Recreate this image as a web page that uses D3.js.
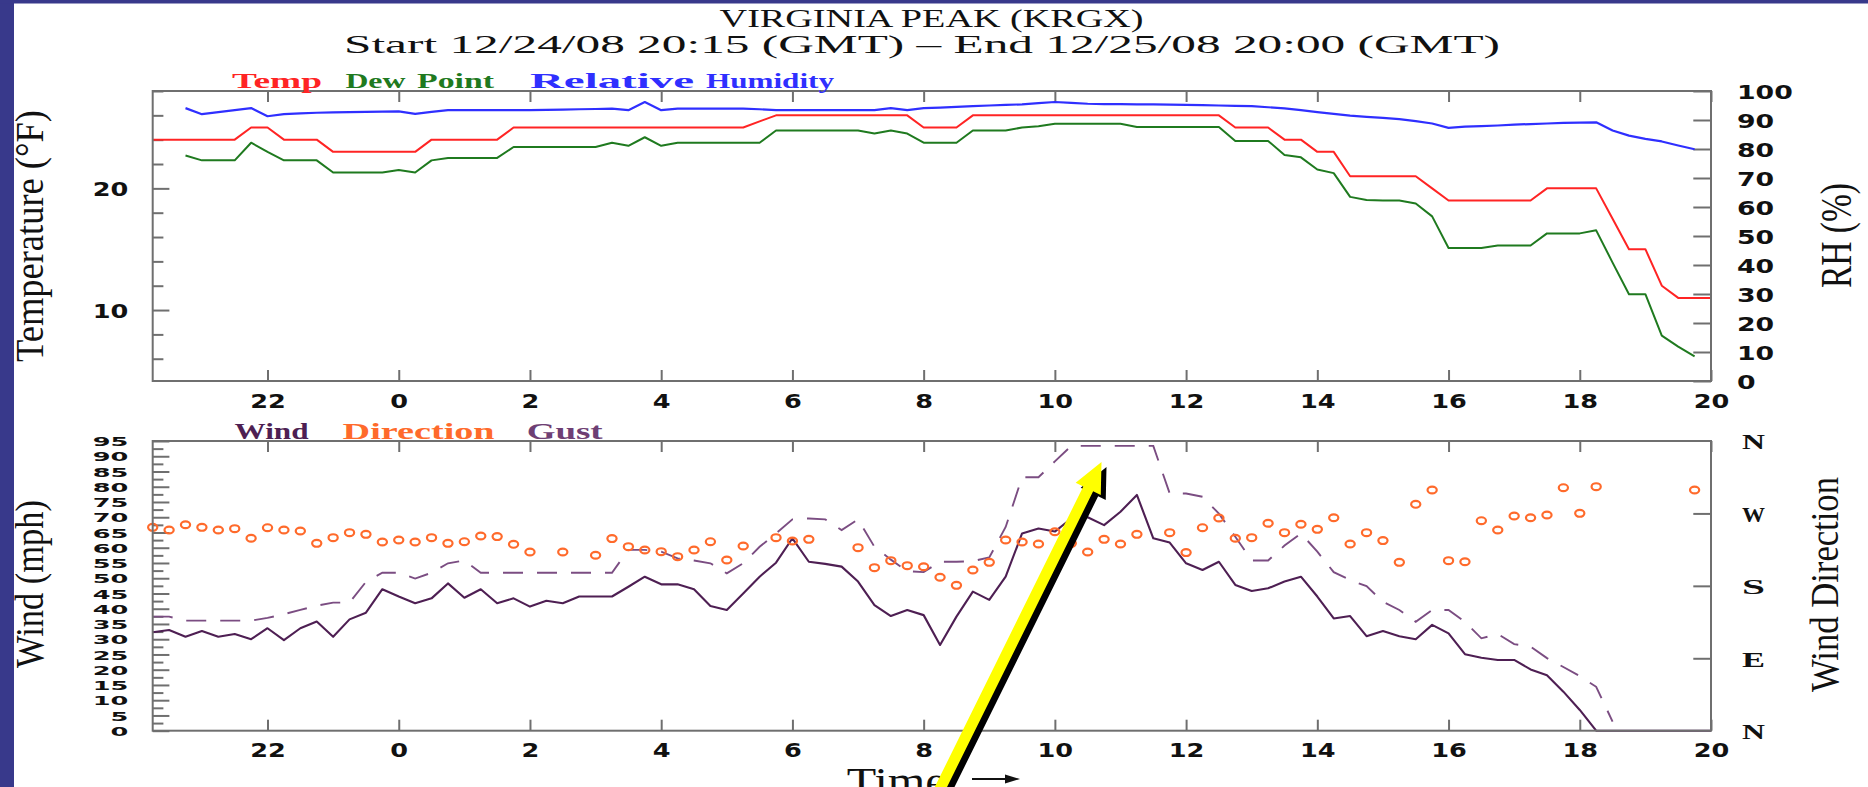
<!DOCTYPE html>
<html><head><meta charset="utf-8">
<script src="https://cdn.jsdelivr.net/npm/d3@7"></script>
<style>html,body{margin:0;padding:0;background:#fff;overflow:hidden}</style>
</head><body>
<svg id="chart" width="1868" height="787"></svg>
<script>
// ---- DATA (15-minute observations, hours relative to 00Z 12/25/08) ----
const hours = [
  -3.75,-3.5,-3.25,
  -3,-2.75,-2.5,-2.25,  -2,-1.75,-1.5,-1.25,  -1,-0.75,-0.5,-0.25,
  0,0.25,0.5,0.75,  1,1.25,1.5,1.75,  2,2.25,2.5,2.75,  3,3.25,3.5,3.75,
  4,4.25,4.5,4.75,  5,5.25,5.5,5.75,  6,6.25,6.5,6.75,  7,7.25,7.5,7.75,
  8,8.25,8.5,8.75,  9,9.25,9.5,9.75,  10,10.25,10.5,10.75,  11,11.25,11.5,11.75,
  12,12.25,12.5,12.75,  13,13.25,13.5,13.75,  14,14.25,14.5,14.75,  15,15.25,15.5,15.75,
  16,16.25,16.5,16.75,  17,17.25,17.5,17.75,  18,18.25,18.5,18.75,  19,19.25,19.5,19.75,
  20];
const tempF = [
  24,24,24,
  24,24,24,25,  25,24,24,24,  23,23,23,23,
  23,23,24,24,  24,24,24,25,  25,25,25,25,  25,25,25,25,
  25,25,25,25,  25,25,25.5,26,  26,26,26,26,  26,26,26,26,
  25,25,25,26,  26,26,26,26,  26,26,26,26,  26,26,26,26,
  26,26,26,25,  25,25,24,24,  23,23,21,21,  21,21,21,20,
  19,19,19,19,  19,19,20,20,  20,20,17.5,15,  15,12,11,11,
  11];
const dewF = [
  null,null,22.7,
  22.3,22.3,22.3,23.75,  23.0,22.3,22.3,22.3,  21.3,21.3,21.3,21.3,
  21.5,21.3,22.3,22.5,  22.5,22.5,22.5,23.4,  23.4,23.4,23.4,23.4,  23.4,23.75,23.5,24.2,
  23.5,23.75,23.75,23.75,  23.75,23.75,23.75,24.75,  24.75,24.75,24.75,24.75,  24.75,24.5,24.75,24.5,
  23.75,23.75,23.75,24.75,  24.75,24.75,25.0,25.1,  25.3,25.3,25.3,25.3,  25.3,25.05,25.05,25.05,
  25.05,25.05,25.05,23.9,  23.9,23.9,22.75,22.55,  21.55,21.25,19.3,19.05,  19.0,19.0,18.75,17.7,
  15.1,15.1,15.1,15.3,  15.3,15.3,16.3,16.3,  16.3,16.55,13.9,11.3,  11.3,7.9,7.0,6.2,
  null];
const rhPct = [
  null,null,94.1,
  92.0,92.7,93.4,94.1,  91.3,92.0,92.3,92.5,  92.6,92.7,92.8,92.9,
  93.0,92.1,92.8,93.4,  93.4,93.4,93.4,93.4,  93.4,93.5,93.6,93.7,  93.8,93.9,93.4,96.2,
  93.4,93.9,93.9,93.9,  93.9,93.9,93.7,93.4,  93.4,93.4,93.4,93.4,  93.4,93.4,94.1,93.4,
  94.1,94.3,94.5,94.8,  95.0,95.2,95.4,95.8,  96.2,95.9,95.6,95.5,  95.5,95.4,95.4,95.3,
  95.2,95.1,95.0,94.9,  94.8,94.4,94.0,93.4,  92.7,92.1,91.5,91.1,  90.7,90.3,89.6,88.8,
  87.3,87.7,87.9,88.1,  88.4,88.6,88.8,89.0,  89.1,89.2,86.4,84.6,  83.5,82.6,81.2,79.9,
  null];
const windMph = [
  32.3,33.0,30.8,
  32.7,30.8,31.7,30.0,  33.6,29.7,33.6,35.8,  30.8,36.5,38.7,46.4,
  44.0,41.8,43.4,48.3,  43.6,46.4,41.8,43.4,  40.7,42.6,41.8,44.0,  44.0,44.0,47.2,50.5,
  48.0,48.0,46.4,40.9,  39.6,45.0,50.5,55.1,  63.1,55.4,54.7,53.8,  48.9,41.2,37.6,39.6,
  37.9,28.1,37.4,45.6,  42.9,50.5,64.7,66.3,  65.3,69.6,70.0,67.4,  71.8,77.3,63.1,61.7,
  54.9,52.7,55.4,47.8,  45.8,46.7,48.9,50.5,  44.0,36.8,37.6,31.0,  32.7,31.0,30.0,34.7,
  31.9,25.1,23.9,23.2,  23.2,20.1,18.2,12.8,  6.8,0,0,0,  0,0,0,0,
  0];
const gustMph = [
  37.4,37.4,36.1,
  36.1,36.1,36.1,36.1,  37.0,38.2,39.6,41.0,  42.0,42.0,48.8,51.8,
  51.8,49.9,51.8,54.9,  55.8,51.8,51.8,51.8,  51.8,51.8,51.8,51.8,  51.8,51.8,59.3,59.3,
  58.7,56.5,55.8,54.9,  51.6,54.9,60.3,64.7,  69.3,69.6,69.3,65.8,  69.3,60.3,56.1,52.3,
  52.0,55.4,55.4,55.6,  56.8,66.8,83.1,83.1,  88.3,93.4,93.4,93.4,  93.4,93.4,93.4,77.8,
  77.8,76.7,71.2,63.6,  55.8,55.8,60.7,64.7,  58.7,52.0,49.4,47.4,  42.3,39.6,35.7,39.6,
  39.6,35.7,30.3,31.7,  28.4,27.6,23.8,20.9,  17.9,14.4,3.0,null,  null,null,null,null,
  null];
const windDir = [
  252.7,249.4,256.0,
  252.7,249.4,251.1,239.1,  252.3,249.4,248.1,232.8,  239.9,246.1,244.0,234.5,
  237.0,234.5,239.9,232.8,  234.9,242.0,241.2,231.6,  222.1,null,222.1,null,  218.0,238.7,228.7,224.6,
  222.5,216.3,224.6,234.9,  212.1,229.5,null,239.9,  235.8,237.8,null,null,  227.5,202.6,211.3,205.1,
  203.8,190.6,180.6,199.7,  209.2,237.0,234.5,232.0,  247.3,232.8,222.1,237.8,  232.0,244.0,null,246.1,
  221.3,252.3,264.3,239.1,  239.9,257.7,246.1,256.5,  250.2,264.7,232.0,246.1,  236.2,209.2,281.3,299.1,
  211.3,210.0,261.0,249.4,  266.8,264.7,268.1,302.0,  270.1,303.3,null,null,  null,null,null,299.1,
  null];

const xTickHours  = [-2,0,2,4,6,8,10,12,14,16,18,20];
const xTickLabels = ["22","0","2","4","6","8","10","12","14","16","18","20"];
const tempMinorTicks = [6,8,12,14,16,18,22,24,26,28];
const tempMajorTicks = [10,20];
const rhTicks = [0,10,20,30,40,50,60,70,80,90,100];
const windMinorTicks = [2.5,7.5,12.5,17.5,22.5,27.5,32.5,37.5,42.5,47.5,52.5,57.5,62.5,67.5,72.5,77.5,82.5,87.5,92.5];
const windMajorTicks = [0,5,10,15,20,25,30,35,40,45,50,55,60,65,70,75,80,85,90,95];
const dirTicks = [90,180,270];
const dirLabelValues = [0,90,180,270,360];
const dirLabels = ["N","E","S","W","N"];

const titleLine1 = "VIRGINIA PEAK (KRGX)";
const titleLine2 = "Start 12/24/08 20:15 (GMT) \u2013 End 12/25/08 20:00 (GMT)";

// ---- LAYOUT / STYLE ----
const W = 1868, H = 787;
const frameL = 152.7, frameR = 1711;
const up = {top: 91, bottom: 381};
const lo = {top: 441, bottom: 730.7};
const C = {frame:"#6f6f6f", temp:"#ff2424", dew:"#1f7a1f", rh:"#2f2fff",
           wind:"#4e1f53", gust:"#7b4d82", dir:"#ff6a2b", text:"#111", border:"#38398b"};

const svg = d3.select("#chart");
svg.append("rect").attr("width",W).attr("height",H).attr("fill","#fff");
svg.append("rect").attr("x",0).attr("y",0).attr("width",14).attr("height",H).attr("fill",C.border);
svg.append("rect").attr("x",0).attr("y",0).attr("width",W).attr("height",3.5).attr("fill",C.border);

const x = d3.scaleLinear().domain([-3.75,20]).range([frameL,frameR]);
const yT = d3.scaleLinear().domain([4.17,28]).range([up.bottom,up.top]);
const yRH = d3.scaleLinear().domain([0,100]).range([up.bottom,up.top]);
const yS = d3.scaleLinear().domain([0,95]).range([lo.bottom,lo.top]);
const yD = d3.scaleLinear().domain([0,360]).range([lo.bottom,lo.top]);

function stretchText(sel, perChar, family, weight, size){
  sel.attr("font-family",family).attr("font-weight",weight).attr("font-size",size)
     .attr("fill",C.text).attr("stroke","none")
     .each(function(){ const t=d3.select(this); const s=t.text();
        t.attr("textLength", s.length*perChar).attr("lengthAdjust","spacingAndGlyphs"); });
}
function styleAxis(g){
  g.select(".domain").remove();
  g.selectAll(".tick line").attr("stroke",C.frame).attr("stroke-width",2);
}
const tickFont = "'DejaVu Sans', sans-serif";
const serif = "'Liberation Serif', 'DejaVu Serif', serif";

// ---- UPPER PANEL ----
const gU = svg.append("g");
const axUB = gU.append("g").attr("transform",`translate(0,${up.bottom})`)
  .call(d3.axisBottom(x).tickValues(xTickHours).tickFormat((d,i)=>xTickLabels[i]).tickSizeInner(-11).tickSizeOuter(0));
styleAxis(axUB);
axUB.selectAll(".tick text").attr("y",27.3).attr("dy",null);
stretchText(axUB.selectAll(".tick text"),17.8,tickFont,"bold",20);
const axUT = gU.append("g").attr("transform",`translate(0,${up.top})`)
  .call(d3.axisTop(x).tickValues(xTickHours).tickFormat("").tickSizeInner(-11).tickSizeOuter(0));
styleAxis(axUT);
const axTmin = gU.append("g").attr("transform",`translate(${frameL},0)`)
  .call(d3.axisLeft(yT).tickValues(tempMinorTicks).tickFormat("").tickSizeInner(-10.7).tickSizeOuter(0));
styleAxis(axTmin);
const axTmaj = gU.append("g").attr("transform",`translate(${frameL},0)`)
  .call(d3.axisLeft(yT).tickValues(tempMajorTicks).tickSizeInner(-16.7).tickSizeOuter(0).tickPadding(24.4));
styleAxis(axTmaj);
axTmaj.selectAll(".tick text").attr("dy","0.36em");
stretchText(axTmaj.selectAll(".tick text"),17.8,tickFont,"bold",20);
const axRH = gU.append("g").attr("transform",`translate(${frameR},0)`)
  .call(d3.axisRight(yRH).tickValues(rhTicks).tickSizeInner(-17.7).tickSizeOuter(0).tickPadding(26));
styleAxis(axRH);
axRH.selectAll(".tick text").attr("dy","0.36em");
stretchText(axRH.selectAll(".tick text"),18.6,tickFont,"bold",20);

function series(vals){ return hours.map((h,i)=>({h, v: vals[i]})).filter(d=>d.v!==null); }
const lineT = d3.line().x(d=>x(d.h)).y(d=>yT(d.v));
const lineRH = d3.line().x(d=>x(d.h)).y(d=>yRH(d.v));
gU.append("path").attr("d",lineRH(series(rhPct))).attr("fill","none").attr("stroke",C.rh).attr("stroke-width",2.2).attr("stroke-linejoin","round");
gU.append("path").attr("d",lineT(series(tempF))).attr("fill","none").attr("stroke",C.temp).attr("stroke-width",2).attr("stroke-linejoin","round");
gU.append("path").attr("d",lineT(series(dewF))).attr("fill","none").attr("stroke",C.dew).attr("stroke-width",2).attr("stroke-linejoin","round");
gU.append("rect").attr("x",frameL).attr("y",up.top).attr("width",frameR-frameL).attr("height",up.bottom-up.top)
  .attr("fill","none").attr("stroke",C.frame).attr("stroke-width",2);

// ---- LOWER PANEL ----
const gL = svg.append("g");
const axLB = gL.append("g").attr("transform",`translate(0,${lo.bottom})`)
  .call(d3.axisBottom(x).tickValues(xTickHours).tickFormat((d,i)=>xTickLabels[i]).tickSizeInner(-11).tickSizeOuter(0));
styleAxis(axLB);
axLB.selectAll(".tick text").attr("y",26).attr("dy",null);
stretchText(axLB.selectAll(".tick text"),17.8,tickFont,"bold",20);
const axLT = gL.append("g").attr("transform",`translate(0,${lo.top})`)
  .call(d3.axisTop(x).tickValues(xTickHours).tickFormat("").tickSizeInner(-11).tickSizeOuter(0));
styleAxis(axLT);
const axSmin = gL.append("g").attr("transform",`translate(${frameL},0)`)
  .call(d3.axisLeft(yS).tickValues(windMinorTicks).tickFormat("").tickSizeInner(-10.7).tickSizeOuter(0));
styleAxis(axSmin);
const axSmaj = gL.append("g").attr("transform",`translate(${frameL},0)`)
  .call(d3.axisLeft(yS).tickValues(windMajorTicks).tickSizeInner(-16.7).tickSizeOuter(0).tickPadding(24.4));
styleAxis(axSmaj);
axSmaj.selectAll(".tick text").attr("dy","0.36em");
stretchText(axSmaj.selectAll(".tick text"),17.8,tickFont,"bold",13);
const axD = gL.append("g").attr("transform",`translate(${frameR},0)`)
  .call(d3.axisRight(yD).tickValues(dirTicks).tickFormat("").tickSizeInner(-17.7).tickSizeOuter(0));
styleAxis(axD);
const axDl = gL.append("g").attr("transform",`translate(${frameR},0)`)
  .call(d3.axisRight(yD).tickValues(dirLabelValues).tickFormat((d,i)=>dirLabels[i]).tickSize(0).tickPadding(31));
styleAxis(axDl);
axDl.selectAll(".tick line").remove();
axDl.selectAll(".tick text").attr("dy","0.36em");
stretchText(axDl.selectAll(".tick text"),23,serif,"bold",22);

const lineS = d3.line().x(d=>x(d.h)).y(d=>yS(d.v));
gL.append("path").attr("d",lineS(series(gustMph))).attr("fill","none").attr("stroke",C.gust)
  .attr("stroke-width",1.9).attr("stroke-dasharray","20,14");
gL.append("path").attr("d",lineS(series(windMph))).attr("fill","none").attr("stroke",C.wind)
  .attr("stroke-width",2.1).attr("stroke-linejoin","round");
gL.append("g").selectAll("ellipse").data(series(windDir)).join("ellipse")
  .attr("cx",d=>x(d.h)).attr("cy",d=>yD(d.v)).attr("rx",4.6).attr("ry",3.4)
  .attr("fill","none").attr("stroke",C.dir).attr("stroke-width",2.2);
gL.append("rect").attr("x",frameL).attr("y",lo.top).attr("width",frameR-frameL).attr("height",lo.bottom-lo.top)
  .attr("fill","none").attr("stroke",C.frame).attr("stroke-width",2);

// ---- TEXT ----
function label(str, xPos, yPos, len, size, color, weight, anchor, rot){
  const t = svg.append("text").text(str).attr("font-family",serif).attr("font-size",size)
    .attr("font-weight",weight||"normal").attr("fill",color||C.text)
    .attr("text-anchor",anchor||"start").attr("textLength",len).attr("lengthAdjust","spacingAndGlyphs");
  if (rot) t.attr("transform",`translate(${xPos},${yPos}) rotate(${rot})`);
  else t.attr("x",xPos).attr("y",yPos);
  return t;
}
label(titleLine1, 931.6, 26.7, 424, 26, C.text, "normal", "middle");
label(titleLine2, 922, 53.3, 1156, 26, C.text, "normal", "middle");

label("Temp", 232, 87.5, 90, 21, C.temp, "bold");
label("Dew", 345.4, 87.5, 60, 21, C.dew, "bold");
label("Point", 417, 87.5, 77, 21, C.dew, "bold");
label("Relative", 530, 87.5, 164, 21, C.rh, "bold");
label("Humidity", 706, 87.5, 128, 21, C.rh, "bold");

label("Wind", 234.5, 439.3, 74, 24, C.wind, "bold");
label("Direction", 342.6, 439.3, 152, 24, C.dir, "bold");
label("Gust", 526.7, 439.3, 76, 24, "#6e3f74", "bold");

label("Temperature (\u00B0F)", 43, 236, 252, 41, C.text, "normal", "middle", -90);
label("Wind (mph)", 43, 584, 168, 41, C.text, "normal", "middle", -90);
label("RH (%)", 1851, 235.5, 105, 44, C.text, "normal", "middle", -90);
label("Wind Direction", 1838, 584.5, 215, 41, C.text, "normal", "middle", -90);

label("Time", 846.7, 794.5, 100, 40, C.text, "normal", "start");
svg.append("line").attr("x1",972).attr("y1",779).attr("x2",1008).attr("y2",779).attr("stroke",C.text).attr("stroke-width",2);
svg.append("path").attr("d","M1005,774.5 L1020,779 L1005,783.5 Z").attr("fill",C.text);

// ---- ANNOTATION ARROW ----
const arrow = {tail:[932,805], tip:[1101.5,462], shaft:11, headW:28, headL:30, shadow:[5,5]};
function arrowPts(a, off){
  const [tx,ty]=[a.tail[0]+off[0],a.tail[1]+off[1]], [px,py]=[a.tip[0]+off[0],a.tip[1]+off[1]];
  const dx=px-tx, dy=py-ty, L=Math.hypot(dx,dy), ux=dx/L, uy=dy/L, nx=-uy, ny=ux;
  const bx=px-ux*a.headL, by=py-uy*a.headL, s=a.shaft/2, h=a.headW/2;
  return [[tx+nx*s,ty+ny*s],[bx+nx*s,by+ny*s],[bx+nx*h,by+ny*h],[px,py],[bx-nx*h,by-ny*h],[bx-nx*s,by-ny*s],[tx-nx*s,ty-ny*s]];
}
svg.append("polygon").attr("points",arrowPts(arrow,arrow.shadow).map(p=>p.join(",")).join(" ")).attr("fill","#000");
svg.append("polygon").attr("points",arrowPts(arrow,[0,0]).map(p=>p.join(",")).join(" ")).attr("fill","#ffff00");
</script>
</body></html>
